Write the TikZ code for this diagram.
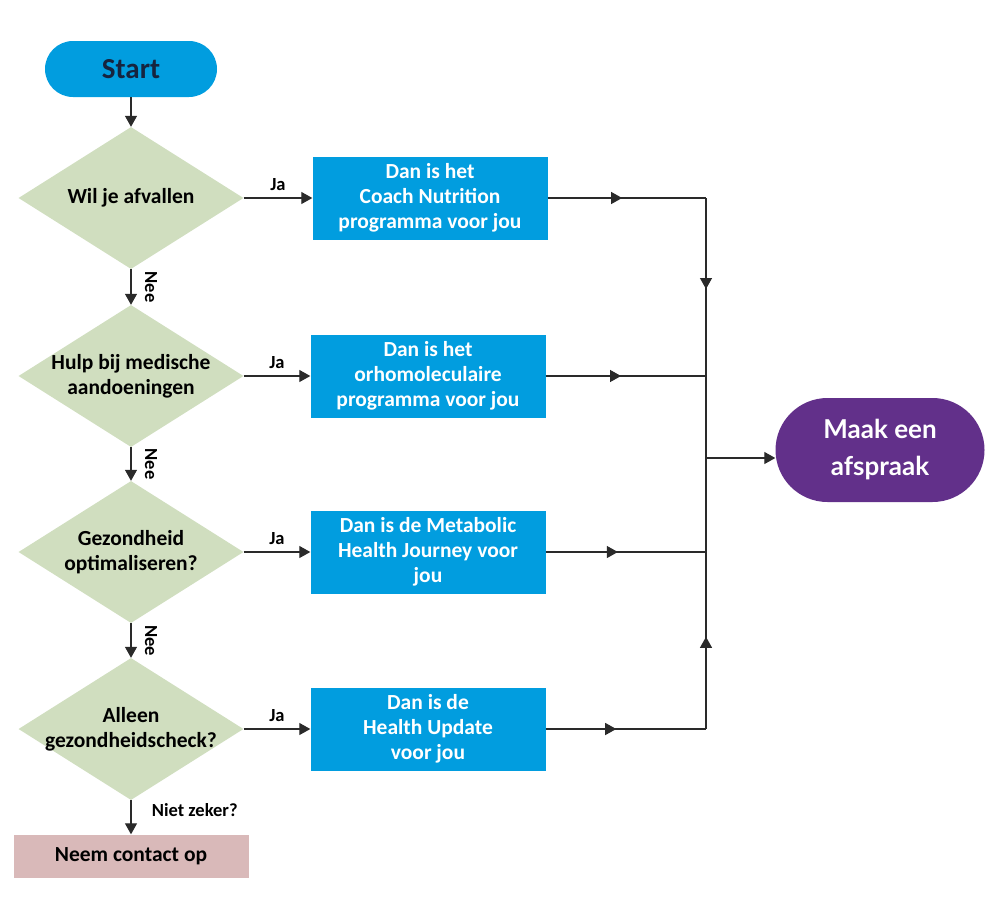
\documentclass[tikz,border=0pt]{standalone}
\usepackage{fontspec}
\setmainfont{Carlito}
\newfontfamily\latofont{Lato}
\usetikzlibrary{shapes.geometric,arrows.meta,decorations.markings}

\definecolor{blauw}{HTML}{019DDF}
\definecolor{groen}{HTML}{D0DEBF}
\definecolor{roze}{HTML}{D9B9B9}
\definecolor{paars}{HTML}{62308A}
\definecolor{marine}{HTML}{16243F}
\definecolor{lijnkleur}{HTML}{2A2A2A}

\tikzset{
  startvak/.style={rectangle, rounded corners=28pt, fill=blauw, text=marine,
    minimum width=172pt, minimum height=56pt, font=\fontsize{29}{32}\selectfont\bfseries},
  beslis/.style={diamond, fill=groen, minimum width=225pt, minimum height=142pt, inner sep=0pt},
  beslistekst/.style={align=center, text=black, font=\fontsize{21.5}{25}\selectfont\bfseries},
  programma/.style={rectangle, fill=blauw, text=white, align=center,
    minimum width=235pt, minimum height=83pt, font=\fontsize{21.5}{25}\selectfont\bfseries},
  contact/.style={rectangle, fill=roze, text=black,
    minimum width=235pt, minimum height=43pt, font=\fontsize{21.5}{24}\selectfont\bfseries},
  afspraak/.style={rectangle, rounded corners=52pt, fill=paars, text=white, align=center,
    minimum width=209pt, minimum height=104pt, font=\latofont\fontsize{26}{37}\selectfont\bfseries},
  lijn/.style={draw=lijnkleur, line width=1.2pt},
  pijl/.style={lijn, -{Triangle[length=11pt,width=12pt]}},
  pijlhalf/.style={lijn, postaction={decorate}, decoration={markings,
    mark=at position #1 with {\arrow{Triangle[length=11pt,width=12pt]}}}},
  klein/.style={font=\fontsize{18.5}{20}\selectfont\bfseries},
  ja/.style={klein, above=3pt},
  nee/.style={klein, midway, xshift=20pt, rotate=-90}
}

\begin{document}
\begin{tikzpicture}[x=1pt,y=-1pt]
    % Kader
    \useasboundingbox (0,0) rectangle (1000,900);

    % Start
    \node[startvak] (start) at (131,69) {Start};

    % Vragen
    \node[beslis, label={[beslistekst]center:Wil je afvallen}] (v1) at (131,198) {};
    \node[beslis, label={[beslistekst]center:Hulp bij medische\\aandoeningen}] (v2) at (131,376) {};
    \node[beslis, label={[beslistekst]center:Gezondheid\\optimaliseren?}] (v3) at (131,552) {};
    \node[beslis, label={[beslistekst]center:Alleen\\gezondheidscheck?}] (v4) at (131,729) {};

    % Programma's
    \node[programma] (p1) at (430,198) {Dan is het\\Coach Nutrition\\programma voor jou};
    \node[programma] (p2) at (428,376) {Dan is het\\orhomoleculaire\\programma voor jou};
    \node[programma] (p3) at (428,552) {Dan is de Metabolic\\Health Journey voor\\jou};
    \node[programma] (p4) at (428,729) {Dan is de\\Health Update\\voor jou};

    % Einde
    \node[contact] (contact) at (131,856) {Neem contact op};
    \node[afspraak] (afspraak) at (880,450) {Maak een\\afspraak};

    % Verzamellijn
    \coordinate (k1) at (706,198);
    \coordinate (k2) at (706,376);
    \coordinate (k3) at (706,552);
    \coordinate (k4) at (706,729);
    \coordinate (km) at (706,458);

    % Pijlen links
    \draw[pijl] (start.south) -- (v1.north);
    \draw[pijl] (v1.south) -- node[nee] {Nee} (v2.north);
    \draw[pijl] (v2.south) -- node[nee] {Nee} (v3.north);
    \draw[pijl] (v3.south) -- node[nee] {Nee} (v4.north);
    \draw[pijl] (v4.south) -- node[klein, pos=0.3, right=17pt] {Niet zeker?} (contact.north);

    % Ja
    \draw[pijl] (v1.east) -- node[ja] {Ja} (p1.west);
    \draw[pijl] (v2.east) -- node[ja] {Ja} (p2.west);
    \draw[pijl] (v3.east) -- node[ja] {Ja} (p3.west);
    \draw[pijl] (v4.east) -- node[ja] {Ja} (p4.west);

    % Naar de afspraak
    \draw[pijlhalf=0.47] (p1.east) -- (k1);
    \draw[pijlhalf=0.47] (p2.east) -- (k2);
    \draw[pijlhalf=0.45] (p3.east) -- (k3);
    \draw[pijlhalf=0.44] (p4.east) -- (k4);
    \draw[pijlhalf=0.35] (k1) -- (km);
    \draw[pijlhalf=0.34] (k4) -- (km);
    \draw[pijl] (km) -- (km -| afspraak.west);
\end{tikzpicture}
\end{document}
